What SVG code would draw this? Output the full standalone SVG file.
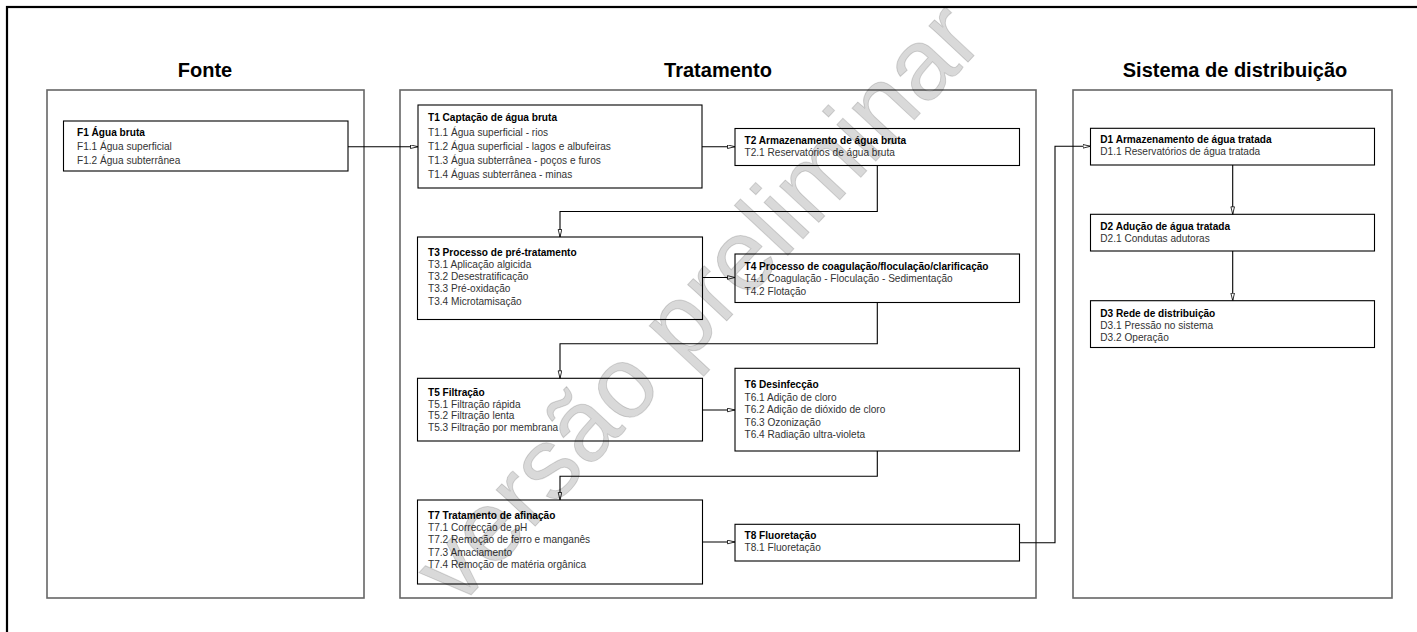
<svg xmlns="http://www.w3.org/2000/svg" width="1417" height="632" viewBox="0 0 1417 632">
  <style>
    .frame { fill: none; stroke: #000; stroke-width: 2.2; }
    .panel { fill: #fff; stroke: #666; stroke-width: 1.6; }
    .box { fill: #fff; stroke: #000; stroke-width: 1.1; }
    .head { font-family: "Liberation Sans", Arial, sans-serif; font-size: 20px; font-weight: bold; fill: #000; text-anchor: middle; }
    .t { font-family: "Liberation Sans", Arial, sans-serif; font-size: 10.1px; font-weight: bold; fill: #000; }
    .s { font-family: "Liberation Sans", Arial, sans-serif; font-size: 10.1px; fill: #333; }
    .link { fill: none; stroke: #000; stroke-width: 1.1; marker-end: url(#tri); }
    .mark { font-family: "Liberation Sans", Arial, sans-serif; font-size: 101px; fill: #000; fill-opacity: 0.15; stroke: #000; stroke-opacity: 0.15; stroke-width: 1; text-anchor: middle; }
  </style>
  <defs>
    <marker id="tri" markerUnits="userSpaceOnUse" markerWidth="10" markerHeight="6" refX="8" refY="2.2" orient="auto">
      <path d="M0.5,0.4 L8,2.2 L0.5,4 Z" fill="#fff" stroke="#000" stroke-width="0.8"/>
    </marker>
  </defs>

  <rect width="1417" height="632" fill="#fff"/>
  <!-- page frame, runs off the right and bottom edges -->
  <rect class="frame" x="7" y="7" width="1440" height="660"/>

  <!-- column headings and panels -->
  <g id="col-fonte">
    <text class="head" x="205" y="77">Fonte</text>
    <rect class="panel" x="47" y="90" width="317" height="508"/>
  </g>
  <g id="col-tratamento">
    <text class="head" x="718" y="77">Tratamento</text>
    <rect class="panel" x="400" y="90" width="636" height="508"/>
  </g>
  <g id="col-distribuicao">
    <text class="head" x="1235" y="77">Sistema de distribuição</text>
    <rect class="panel" x="1073" y="90" width="319" height="508"/>
  </g>

  <!-- process boxes -->
  <g id="F1">
    <rect class="box" x="63.5" y="121" width="284.5" height="50"/>
    <text class="t" x="77" y="136">F1 Água bruta</text>
    <text class="s" x="77" y="150">F1.1 Água superficial</text>
    <text class="s" x="77" y="164">F1.2 Água subterrânea</text>
  </g>
  <g id="T1">
    <rect class="box" x="418" y="105" width="284" height="83"/>
    <text class="t" x="428" y="121.3">T1 Captação de água bruta</text>
    <text class="s" x="428" y="135.5">T1.1 Água superficial - rios</text>
    <text class="s" x="428" y="149.5">T1.2 Água superficial - lagos e albufeiras</text>
    <text class="s" x="428" y="163.5">T1.3 Água subterrânea - poços e furos</text>
    <text class="s" x="428" y="177.5">T1.4 Águas subterrânea - minas</text>
  </g>
  <g id="T2">
    <rect class="box" x="735" y="128.5" width="284.5" height="37"/>
    <text class="t" x="744.5" y="144">T2 Armazenamento de água bruta</text>
    <text class="s" x="744.5" y="156">T2.1 Reservatórios de água bruta</text>
  </g>
  <g id="T3">
    <rect class="box" x="417.5" y="237" width="285" height="82.5"/>
    <text class="t" x="428" y="255.5">T3 Processo de pré-tratamento</text>
    <text class="s" x="428" y="267.5">T3.1 Aplicação algicida</text>
    <text class="s" x="428" y="280">T3.2 Desestratificação</text>
    <text class="s" x="428" y="292.3">T3.3 Pré-oxidação</text>
    <text class="s" x="428" y="304.5">T3.4 Microtamisação</text>
  </g>
  <g id="T4">
    <rect class="box" x="735" y="254" width="284.5" height="48.5"/>
    <text class="t" x="744.5" y="270">T4 Processo de coagulação/floculação/clarificação</text>
    <text class="s" x="744.5" y="282.3">T4.1 Coagulação - Floculação - Sedimentação</text>
    <text class="s" x="744.5" y="294.5">T4.2 Flotação</text>
  </g>
  <g id="T5">
    <rect class="box" x="417.5" y="378.3" width="285" height="62.7"/>
    <text class="t" x="428" y="395.7">T5 Filtração</text>
    <text class="s" x="428" y="407.5">T5.1 Filtração rápida</text>
    <text class="s" x="428" y="419.3">T5.2 Filtração lenta</text>
    <text class="s" x="428" y="431.2">T5.3 Filtração por membrana</text>
  </g>
  <g id="T6">
    <rect class="box" x="735" y="368.3" width="284.5" height="82.7"/>
    <text class="t" x="744.5" y="388.3">T6 Desinfecção</text>
    <text class="s" x="744.5" y="400.7">T6.1 Adição de cloro</text>
    <text class="s" x="744.5" y="413.2">T6.2 Adição de dióxido de cloro</text>
    <text class="s" x="744.5" y="425.7">T6.3 Ozonização</text>
    <text class="s" x="744.5" y="438.2">T6.4 Radiação ultra-violeta</text>
  </g>
  <g id="T7">
    <rect class="box" x="417.5" y="500" width="285" height="84"/>
    <text class="t" x="428" y="519">T7 Tratamento de afinação</text>
    <text class="s" x="428" y="530.5">T7.1 Correcção de pH</text>
    <text class="s" x="428" y="543">T7.2 Remoção de ferro e manganês</text>
    <text class="s" x="428" y="555.5">T7.3 Amaciamento</text>
    <text class="s" x="428" y="568">T7.4 Remoção de matéria orgânica</text>
  </g>
  <g id="T8">
    <rect class="box" x="735" y="524.3" width="284.5" height="36.7"/>
    <text class="t" x="744.5" y="539.3">T8 Fluoretação</text>
    <text class="s" x="744.5" y="551.3">T8.1 Fluoretação</text>
  </g>
  <g id="D1">
    <rect class="box" x="1090.5" y="128.3" width="284" height="36.7"/>
    <text class="t" x="1100.3" y="143.3">D1 Armazenamento de água tratada</text>
    <text class="s" x="1100.3" y="155.3">D1.1 Reservatórios de água tratada</text>
  </g>
  <g id="D2">
    <rect class="box" x="1090.5" y="214.3" width="284" height="36.7"/>
    <text class="t" x="1100.3" y="230">D2 Adução de água tratada</text>
    <text class="s" x="1100.3" y="242">D2.1 Condutas adutoras</text>
  </g>
  <g id="D3">
    <rect class="box" x="1090.5" y="300.7" width="284" height="46.8"/>
    <text class="t" x="1100.3" y="316.7">D3 Rede de distribuição</text>
    <text class="s" x="1100.3" y="328.7">D3.1 Pressão no sistema</text>
    <text class="s" x="1100.3" y="340.5">D3.2 Operação</text>
  </g>

  <!-- flow connectors -->
  <g id="connectors">
    <path class="link" d="M348,146.7 H418"/>
    <path class="link" d="M702,146.7 H735"/>
    <path class="link" d="M877.3,165.5 V211.5 H560 V237"/>
    <path class="link" d="M702.5,277.5 H735"/>
    <path class="link" d="M877.3,302.5 V343.8 H560 V378.3"/>
    <path class="link" d="M702.5,410 H735"/>
    <path class="link" d="M877.3,451 V476.3 H560 V500"/>
    <path class="link" d="M702.5,542 H735"/>
    <path class="link" d="M1019.5,542.7 H1055 V146.3 H1090.5"/>
    <path class="link" d="M1232.7,165 V214.3"/>
    <path class="link" d="M1232.7,251 V300.7"/>
  </g>

  <!-- draft watermark -->
  <text class="mark" transform="translate(722 326) rotate(-47)">versão preliminar</text>
</svg>
